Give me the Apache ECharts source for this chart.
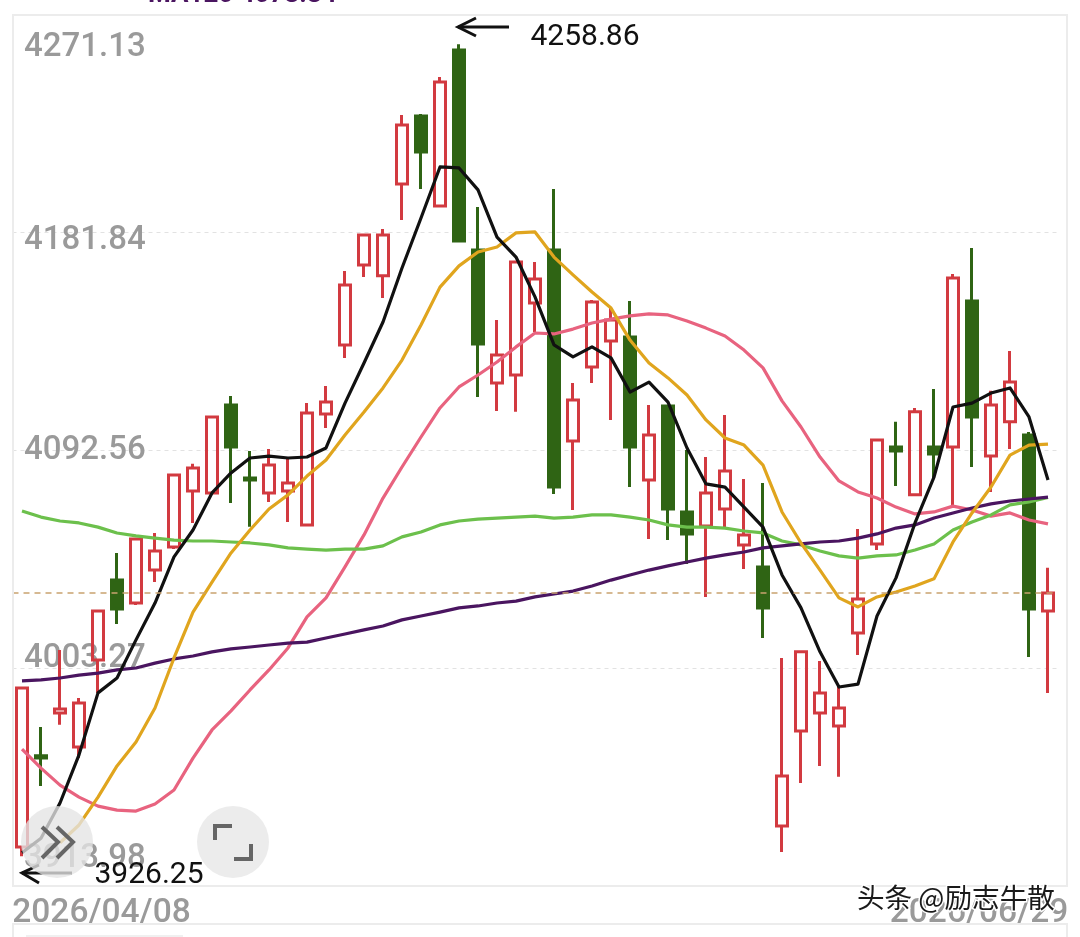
<!DOCTYPE html>
<html>
<head>
<meta charset="utf-8">
<title>日K线</title>
<style>
html,body{margin:0;padding:0;background:#fff;overflow:hidden}
#chart{width:1080px;height:937px}
</style>
<script src="https://cdn.jsdelivr.net/npm/echarts@6/dist/echarts.min.js"></script>
</head>
<body>
<div id="chart"></div>
<script>
// Trading days of the window, first to last
var dates = [
  '2026/04/08','2026/04/09','2026/04/10','2026/04/13','2026/04/14','2026/04/15','2026/04/16','2026/04/17',
  '2026/04/20','2026/04/21','2026/04/22','2026/04/23','2026/04/24','2026/04/27','2026/04/28','2026/04/29','2026/04/30',
  '2026/05/06','2026/05/07','2026/05/08','2026/05/11','2026/05/12','2026/05/13','2026/05/14','2026/05/15',
  '2026/05/18','2026/05/19','2026/05/20','2026/05/21','2026/05/22','2026/05/25','2026/05/26','2026/05/27','2026/05/28','2026/05/29',
  '2026/06/01','2026/06/02','2026/06/03','2026/06/04','2026/06/05','2026/06/08','2026/06/09','2026/06/10','2026/06/11','2026/06/12',
  '2026/06/15','2026/06/16','2026/06/17','2026/06/18','2026/06/22','2026/06/23','2026/06/24','2026/06/25','2026/06/26','2026/06/29'
];

var opens = [
  3930.1,3967.4,3985.0,3971.0,4006.7,4039.4,4030.0,4043.5,4053.0,4075.9,4075.1,
  4111.1,4081.2,4075.1,4075.9,4062.0,4107.4,4135.7,4168.5,4164.0,4201.6,4229.5,
  4192.6,4256.5,4174.6,4120.1,4123.4,4152.9,4174.6,4096.4,4126.7,4137.3,4139.0,
  4080.4,4110.7,4067.3,4061.6,4068.5,4053.8,4044.8,3938.7,3977.6,3985.0,3979.6,
  4017.7,4054.2,4093.9,4074.3,4093.9,4093.9,4153.7,4090.2,4104.2,4098.8,4026.7
];
var closes = [
  3995.2,3966.5,3986.6,3989.1,4026.7,4027.6,4056.2,4051.3,4082.4,4085.3,4106.2,
  4093.9,4080.4,4086.5,4079.2,4107.8,4112.3,4160.3,4180.7,4180.7,4225.8,4214.7,
  4243.4,4178.3,4136.1,4131.6,4169.7,4162.7,4077.5,4113.2,4153.3,4145.9,4093.9,
  4098.8,4068.5,4058.3,4075.1,4084.1,4057.9,4028.0,3959.2,4010.0,3993.2,3987.0,
  4031.7,4096.8,4092.3,4108.3,4091.0,4163.1,4106.2,4111.1,4120.5,4027.6,4034.1
];
var lows = [
  3926.25,3955.1,3980.1,3966.5,3993.2,4021.4,4029.2,4038.6,4052.1,4062.8,4074.9,
  4071.0,4061.2,4071.4,4063.2,4061.8,4101.7,4130.4,4163.5,4154.9,4186.9,4199.6,
  4192.4,4178.1,4114.4,4108.7,4108.3,4141.0,4074.7,4068.1,4120.1,4105.0,4077.5,
  4056.2,4055.8,4046.0,4032.5,4060.7,4043.9,4015.7,3928.0,3956.3,3963.3,3958.8,
  4008.7,4051.7,4077.9,4074.1,4080.8,4069.8,4085.7,4075.5,4093.1,4007.9,3993.2
];
var highs = [
  3995.4,3979.2,4010.8,3991.1,4026.9,4050.5,4056.5,4058.7,4082.9,4087.0,4106.6,
  4114.8,4092.3,4093.1,4089.8,4111.9,4118.9,4166.0,4180.9,4183.2,4229.9,4230.3,
  4245.45,4258.86,4192.2,4145.9,4169.9,4169.7,4199.6,4120.1,4154.1,4150.8,4153.7,
  4111.1,4110.9,4092.7,4089.8,4107.0,4080.8,4079.2,4007.5,4010.4,4006.3,3996.0,
  4060.3,4097.0,4104.2,4109.9,4117.7,4164.8,4175.4,4116.9,4133.2,4100.1,4044.4
];

var ma5 = [
  3927.7,3933.7,3948.1,3967.8,3993.2,3999.3,4014.9,4030.0,4048.9,4059.9,4075.1,
  4083.3,4089.4,4090.2,4089.4,4089.8,4093.5,4111.9,4128.3,4145.1,4167.2,4187.7,
  4208.6,4208.2,4199.2,4179.9,4171.7,4155.4,4135.7,4130.8,4134.9,4130.4,4116.4,
  4120.5,4112.3,4093.5,4078.8,4077.5,4069.3,4061.1,4041.5,4028.0,4010.0,3995.6,
  3996.8,4024.7,4040.3,4062.8,4081.6,4110.3,4111.9,4116.0,4118.1,4106.2,4080.4
];
var ma10 = [
  null,null,3931.8,3939.1,3950.5,3963.3,3973.1,3987.0,4007.5,4026.3,4038.6,
  4050.5,4059.9,4068.5,4074.3,4082.0,4088.6,4098.8,4108.2,4118.1,4129.5,4143.9,
  4159.4,4168.1,4173.8,4175.8,4181.6,4182.0,4171.7,4164.4,4157.4,4150.8,4137.7,
  4128.3,4122.2,4115.2,4105.0,4097.6,4094.7,4086.5,4067.3,4054.6,4043.5,4032.1,
  4028.4,4032.5,4034.5,4037.0,4039.9,4055.0,4066.9,4077.5,4090.6,4094.7,4095.1
];
var ma20 = [
  3970.2,3962.4,3955.4,3950.5,3946.8,3945.2,3944.8,3947.7,3953.4,3966.5,3978.0,
  3985.8,3994.4,4002.6,4011.6,4024.3,4032.1,4044.8,4057.9,4073.0,4085.7,4098.0,
  4109.9,4118.5,4123.4,4128.7,4134.9,4140.6,4140.2,4142.2,4144.7,4146.3,4147.6,
  4148.4,4148.0,4145.5,4142.6,4139.4,4133.6,4126.3,4112.8,4102.1,4089.8,4080.0,
  4075.5,4073.0,4069.3,4066.5,4067.3,4069.7,4068.1,4065.6,4066.9,4064.0,4062.4
];
var ma60 = [
  4067.7,4065.2,4063.6,4062.8,4061.1,4058.7,4057.5,4056.6,4055.8,4055.4,4055.4,
  4055.0,4054.6,4053.8,4052.6,4052.1,4051.7,4052.1,4052.1,4053.4,4057.1,4059.1,
  4062.0,4063.6,4064.4,4064.8,4065.2,4065.6,4064.8,4065.2,4066.1,4066.1,4065.2,
  4064.0,4062.0,4061.1,4061.1,4060.7,4059.5,4058.7,4055.4,4053.8,4051.3,4049.3,
  4048.4,4049.3,4049.7,4051.7,4054.2,4059.9,4063.2,4066.1,4070.2,4071.4,4073.2
];
var ma120 = [
  3998.1,3998.5,3999.3,4000.5,4001.3,4002.6,4003.4,4005.4,4007.1,4008.3,4010.0,
  4011.2,4012.0,4012.8,4013.6,4014.0,4015.7,4017.3,4019.0,4020.6,4023.1,4024.7,
  4026.3,4028.0,4028.8,4030.0,4030.8,4032.5,4033.7,4034.9,4037.0,4039.4,4041.5,
  4043.5,4045.2,4046.8,4048.4,4049.7,4050.9,4052.6,4053.4,4054.2,4055.0,4055.4,
  4056.6,4058.3,4060.7,4062.0,4064.8,4066.9,4068.9,4070.6,4071.8,4072.6,4073.34
];

var tickLabels = [3913.98, 4003.27, 4092.56, 4181.84, 4271.13];
var prevClose = 4034.1;
var peakLabel = '4258.86';
var troughLabel = '3926.25';
var ma120Label = 'MA120 4073.34';

var RED = '#d23a40', DARK_GREEN = '#2f6414', GREY = '#9a9a9a', FRAME = '#ececec';

var candles = dates.map(function (d, i) {
  return [opens[i], closes[i], lows[i], highs[i]];
});

function maSeries(name, values, color) {
  return {
    name: name, type: 'line', data: values, symbol: 'none', silent: true,
    connectNulls: false, animation: false,
    lineStyle: { color: color, width: 3.2, join: 'round' }
  };
}

// Tick labels sit at different heights around their gridlines in this layout
var tickRich = {};
var tickShift = { '3913.98': -28, '4003.27': -10, '4092.56': 0, '4181.84': 8, '4271.13': 33 };
tickLabels.forEach(function (t, i) {
  var s = tickShift[String(t)];
  tickRich['t' + i] = {
    fontFamily: 'Roboto', fontSize: 33, fontWeight: 500, color: GREY,
    padding: s > 0 ? [s * 2, 0, 0, 0] : [0, 0, -s * 2, 0]
  };
});

function poly(points, color, width) {
  return {
    type: 'polyline', silent: true,
    shape: { points: points },
    style: { stroke: color, lineWidth: width, fill: null, lineJoin: 'miter' }
  };
}

var overlay = [
  // Chart frame and the date strip below it
  { type: 'rect', silent: true, shape: { x: 13, y: 15, width: 1054, height: 871 },
    style: { fill: null, stroke: FRAME, lineWidth: 2 } },
  poly([[13, 937], [13, 924], [1067, 924], [1067, 937]], FRAME, 2),
  poly([[26, 936], [183, 936]], '#f0f0f0', 2),

  // Cut-off indicator caption above the frame
  { type: 'text', silent: true,
    style: { text: ma120Label, x: 148, y: 8, fill: '#4a1560',
             font: 'bold 26px Roboto', verticalAlign: 'bottom', align: 'left' } },

  // Arrows beside the highest and lowest prices
  poly([[458, 27], [509, 27]], '#111', 3),
  poly([[476, 18], [458, 27], [476, 36]], '#111', 3),
  poly([[22, 873], [72, 873]], '#111', 3),
  poly([[39, 865], [22, 873], [39, 883]], '#111', 3),

  // Collapse button, translucent over the chart
  { type: 'circle', silent: true, shape: { cx: 57, cy: 842, r: 36 },
    style: { fill: 'rgba(228,228,228,0.78)' } },
  poly([[42, 827], [58, 842], [42, 858]], '#666', 4),
  poly([[57, 827], [73, 842], [57, 858]], '#666', 4),

  // Fullscreen button
  { type: 'circle', silent: true, shape: { cx: 233, cy: 842, r: 36 },
    style: { fill: '#ececec' } },
  poly([[215, 840], [215, 826], [232, 826]], '#666', 4),
  poly([[234, 859], [251, 859], [251, 844]], '#666', 4),

  // Source mark
  { type: 'text', silent: true,
    style: { text: '头条 @励志牛散', x: 857, y: 898, fill: '#1a1a1a',
             stroke: '#fff', lineWidth: 3,
             font: '27.6px "Noto Sans CJK SC"', verticalAlign: 'middle', align: 'left' } }
];
overlay.forEach(function (el, i) { el.z = 100 + i; });

var chart = echarts.init(document.getElementById('chart'), null, { renderer: 'canvas' });

chart.setOption({
  animation: false,
  backgroundColor: '#fff',
  grid: { left: 12.5, width: 1045, top: 14.3, height: 872 },
  xAxis: {
    type: 'category',
    data: dates,
    boundaryGap: true,
    axisLine: { show: false },
    axisTick: { show: false },
    splitLine: { show: false },
    axisLabel: {
      margin: 10,
      interval: function (i) { return i === 0 || i === dates.length - 1; },
      formatter: function (v, i) {
        return (i === 0 ? '{first|' : '{last|') + v + '}';
      },
      rich: {
        first: { fontFamily: 'Roboto', fontSize: 33.5, fontWeight: 500, color: GREY, padding: [0, 0, 0, 159] },
        last: { fontFamily: 'Roboto', fontSize: 33.5, fontWeight: 500, color: GREY, padding: [0, 138, 0, 0] }
      }
    }
  },
  yAxis: {
    type: 'value',
    min: tickLabels[0],
    max: tickLabels[tickLabels.length - 1],
    axisLine: { show: false },
    axisTick: { show: false, customValues: tickLabels },
    splitLine: {
      show: true, showMinLine: false, showMaxLine: false,
      lineStyle: { color: '#e2e2e2', type: [4, 4], width: 1 }
    },
    axisLabel: {
      inside: true,
      margin: 11.5,
      customValues: tickLabels,
      formatter: function (v) {
        var i = tickLabels.indexOf(v);
        return '{t' + i + '|' + v.toFixed(2) + '}';
      },
      rich: tickRich
    }
  },
  series: [
    {
      name: '日K',
      type: 'candlestick',
      data: candles,
      barWidth: 12,
      itemStyle: {
        color: 'rgba(255,255,255,0)',
        color0: DARK_GREEN,
        borderColor: RED,
        borderColor0: DARK_GREEN,
        borderWidth: 3
      },
      markLine: {
        silent: true,
        symbol: 'none',
        label: { show: false },
        lineStyle: { color: '#c9a26f', type: [6, 5], width: 1.5 },
        data: [{ yAxis: prevClose }]
      },
      markPoint: {
        silent: true,
        symbol: 'circle',
        symbolSize: 1,
        itemStyle: { color: 'rgba(0,0,0,0)' },
        label: { show: true, fontFamily: 'Roboto', fontSize: 30, color: '#111', position: 'inside' },
        data: [
          { coord: [dates[highs.indexOf(4258.86)], 4258.86],
            label: { formatter: peakLabel, offset: [126, -7] } },
          { coord: [dates[lows.indexOf(3926.25)], 3926.25],
            label: { formatter: troughLabel, offset: [127, 19] } }
        ]
      }
    },
    maSeries('MA20', ma20, '#e8637f'),
    maSeries('MA60', ma60, '#6cc04c'),
    maSeries('MA120', ma120, '#4a1560'),
    maSeries('MA10', ma10, '#e0a51e'),
    maSeries('MA5', ma5, '#111111')
  ],
  graphic: { elements: overlay }
});
</script>
</body>
</html>
